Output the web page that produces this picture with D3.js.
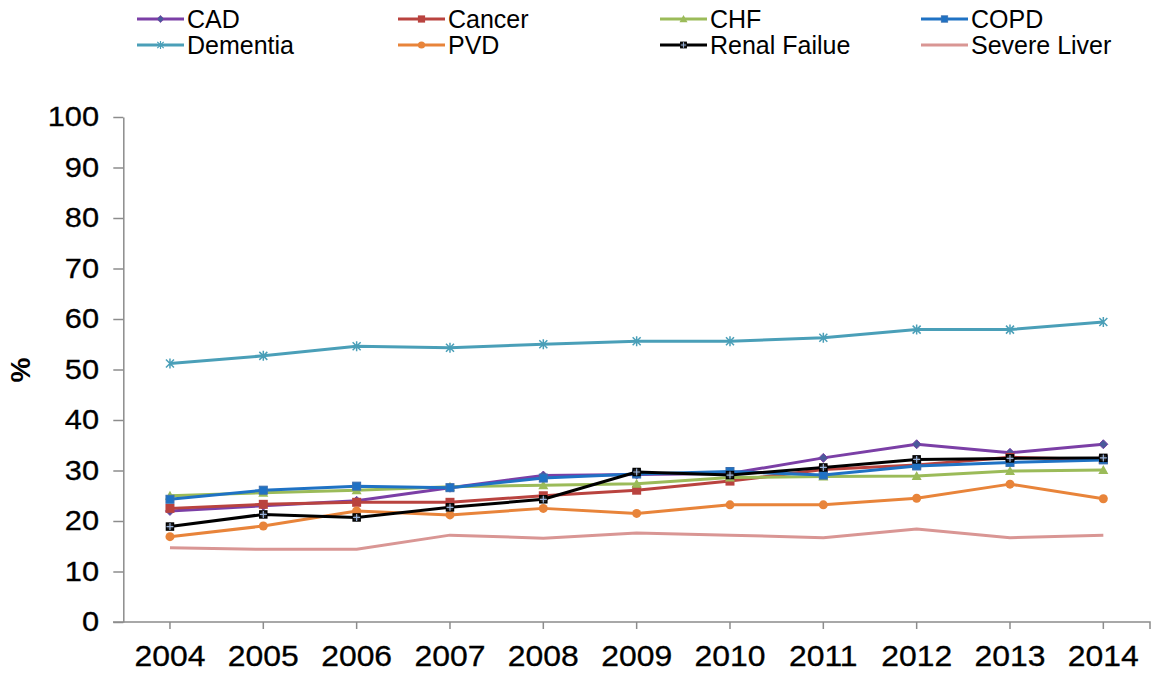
<!DOCTYPE html>
<html>
<head>
<meta charset="utf-8">
<script src="https://cdn.jsdelivr.net/npm/d3@7"></script>
<style>
  body { margin: 0; background: #fff; }
  svg { font-family: "Liberation Sans", Arial, sans-serif; }
</style>
</head>
<body>
<svg id="chart" width="1151" height="674"></svg>
<script>
const years = ["2004", "2005", "2006", "2007", "2008", "2009", "2010", "2011", "2012", "2013", "2014"];
const yTicks = [0, 10, 20, 30, 40, 50, 60, 70, 80, 90, 100];

const cad         = [22.0, 23.0, 24.0, 26.6, 29.0, 29.2, 29.4, 32.5, 35.2, 33.5, 35.2];
const cancer      = [22.5, 23.3, 23.7, 23.7, 25.0, 26.1, 27.9, 30.2, 31.1, 32.6, 32.2];
const chf         = [25.0, 25.6, 26.1, 26.8, 27.1, 27.4, 28.6, 28.8, 28.9, 29.9, 30.1];
const copd        = [24.3, 26.1, 26.9, 26.6, 28.5, 29.3, 29.8, 29.1, 30.9, 31.6, 32.1];
const dementia    = [51.2, 52.7, 54.6, 54.3, 55.0, 55.6, 55.6, 56.3, 57.9, 57.9, 59.4];
const pvd         = [16.9, 19.0, 22.0, 21.2, 22.5, 21.5, 23.2, 23.2, 24.5, 27.3, 24.4];
const renal       = [18.9, 21.3, 20.7, 22.7, 24.3, 29.7, 29.1, 30.6, 32.2, 32.4, 32.5];
const severeLiver = [14.7, 14.4, 14.4, 17.2, 16.6, 17.6, 17.2, 16.7, 18.4, 16.7, 17.2];

const series = [
    { name: "CAD", values: cad, color: "#7b3fa6", marker: "diamond" },
    { name: "Cancer", values: cancer, color: "#b9433f", marker: "square" },
    { name: "CHF", values: chf, color: "#9bbb59", marker: "triangle" },
    { name: "COPD", values: copd, color: "#1f72c4", marker: "smallsquare" },
    { name: "Dementia", values: dementia, color: "#4a9fb8", marker: "star" },
    { name: "PVD", values: pvd, color: "#e8843a", marker: "circle" },
    { name: "Renal Failue", values: renal, color: "#000000", marker: "plussquare" },
    { name: "Severe Liver", values: severeLiver, color: "#d99694", marker: "none" }
];

const svg = d3.select("#chart");

const x = d3.scaleBand().domain(years).range([123.3, 1150]).padding(0);
const cx = (d) => x(d) + x.bandwidth() / 2;
const y = d3.scaleLinear().domain([0, 100]).range([622, 117]);

// axes
const yAxis = d3.axisLeft(y).tickValues(yTicks).tickSize(10).tickSizeOuter(0).tickPadding(12);
const gy = svg.append("g").attr("transform", "translate(123.3,0)").call(yAxis);
gy.select(".domain").attr("stroke", "#8c8c8c").attr("stroke-width", 1.5);
gy.selectAll(".tick line").attr("stroke", "#8c8c8c").attr("stroke-width", 1.5);
gy.selectAll(".tick text")
    .attr("font-size", 28).attr("fill", "#000")
    .attr("stroke", "#000").attr("stroke-width", 0.3)
    .attr("transform", "scale(1.1,1)");

const xAxis = d3.axisBottom(x).tickSize(7).tickSizeOuter(7).tickPadding(16);
const gx = svg.append("g").attr("transform", "translate(0,622)").call(xAxis);
gx.select(".domain").attr("stroke", "#8c8c8c").attr("stroke-width", 1.5)
    .attr("d", "M113,0H1150V7");
gx.selectAll(".tick line").attr("stroke", "#8c8c8c").attr("stroke-width", 1.5);
gx.selectAll(".tick text")
    .attr("font-size", 29).attr("fill", "#000")
    .attr("stroke", "#000").attr("stroke-width", 0.3)
    .attr("transform", "scale(1.1,1)");

svg.append("text")
    .attr("transform", "translate(30,370) rotate(-90)")
    .attr("text-anchor", "middle")
    .attr("font-size", 28).attr("font-weight", "bold")
    .text("%");

// markers
function drawMarker(g, type, color) {
    if (type === "diamond") {
        g.append("path").attr("d", "M0,-4.5L4.5,0L0,4.5L-4.5,0Z").attr("fill", "#4a5a9a").attr("stroke", color).attr("stroke-width", 1);
    } else if (type === "square") {
        g.append("rect").attr("x", -4.5).attr("y", -4.5).attr("width", 9).attr("height", 9).attr("fill", color);
    } else if (type === "smallsquare") {
        g.append("rect").attr("x", -4).attr("y", -4).attr("width", 8).attr("height", 8).attr("fill", color).attr("stroke", "#3a6fb0").attr("stroke-width", 1);
    } else if (type === "triangle") {
        g.append("path").attr("d", "M0,-5L5,4L-5,4Z").attr("fill", color);
    } else if (type === "circle") {
        g.append("circle").attr("r", 4.5).attr("fill", color);
    } else if (type === "star") {
        g.append("path").attr("d", "M-4,-4L4,4M-4,4L4,-4M0,-5V5").attr("stroke", color).attr("stroke-width", 1.5);
    } else if (type === "plussquare") {
        g.append("rect").attr("x", -3.5).attr("y", -3.5).attr("width", 7).attr("height", 7).attr("fill", "#222").attr("stroke", color).attr("stroke-width", 1.5);
        g.append("path").attr("d", "M-3.5,0H3.5M0,-3.5V3.5").attr("stroke", "#9ab4dc").attr("stroke-width", 1.2);
    }
}

const line = d3.line().x((d, i) => cx(years[i])).y((d) => y(d));

const plot = svg.append("g");
series.forEach((s) => {
    plot.append("path")
        .attr("d", line(s.values))
        .attr("fill", "none")
        .attr("stroke", s.color)
        .attr("stroke-width", 3)
        .attr("stroke-linejoin", "round");
    plot.selectAll(null)
        .data(s.values)
        .enter()
        .append("g")
        .attr("transform", (d, i) => "translate(" + cx(years[i]) + "," + y(d) + ")")
        .each(function () { drawMarker(d3.select(this), s.marker, s.color); });
});

// legend
const legendX = [137, 398, 660, 921];
const legendY = [19, 45];
series.forEach((s, i) => {
    const lx = legendX[i % 4];
    const ly = legendY[Math.floor(i / 4)];
    const g = svg.append("g").attr("transform", "translate(" + lx + "," + ly + ")");
    g.append("line").attr("x1", 0).attr("x2", 47).attr("y1", 0).attr("y2", 0)
        .attr("stroke", s.color).attr("stroke-width", 3);
    const m = g.append("g").attr("transform", "translate(23.5,0) scale(0.8)");
    drawMarker(m, s.marker, s.color);
    g.append("text").attr("x", 50).attr("y", 9)
        .attr("font-size", 25).attr("fill", "#000")
        .text(s.name);
});
</script>
</body>
</html>
